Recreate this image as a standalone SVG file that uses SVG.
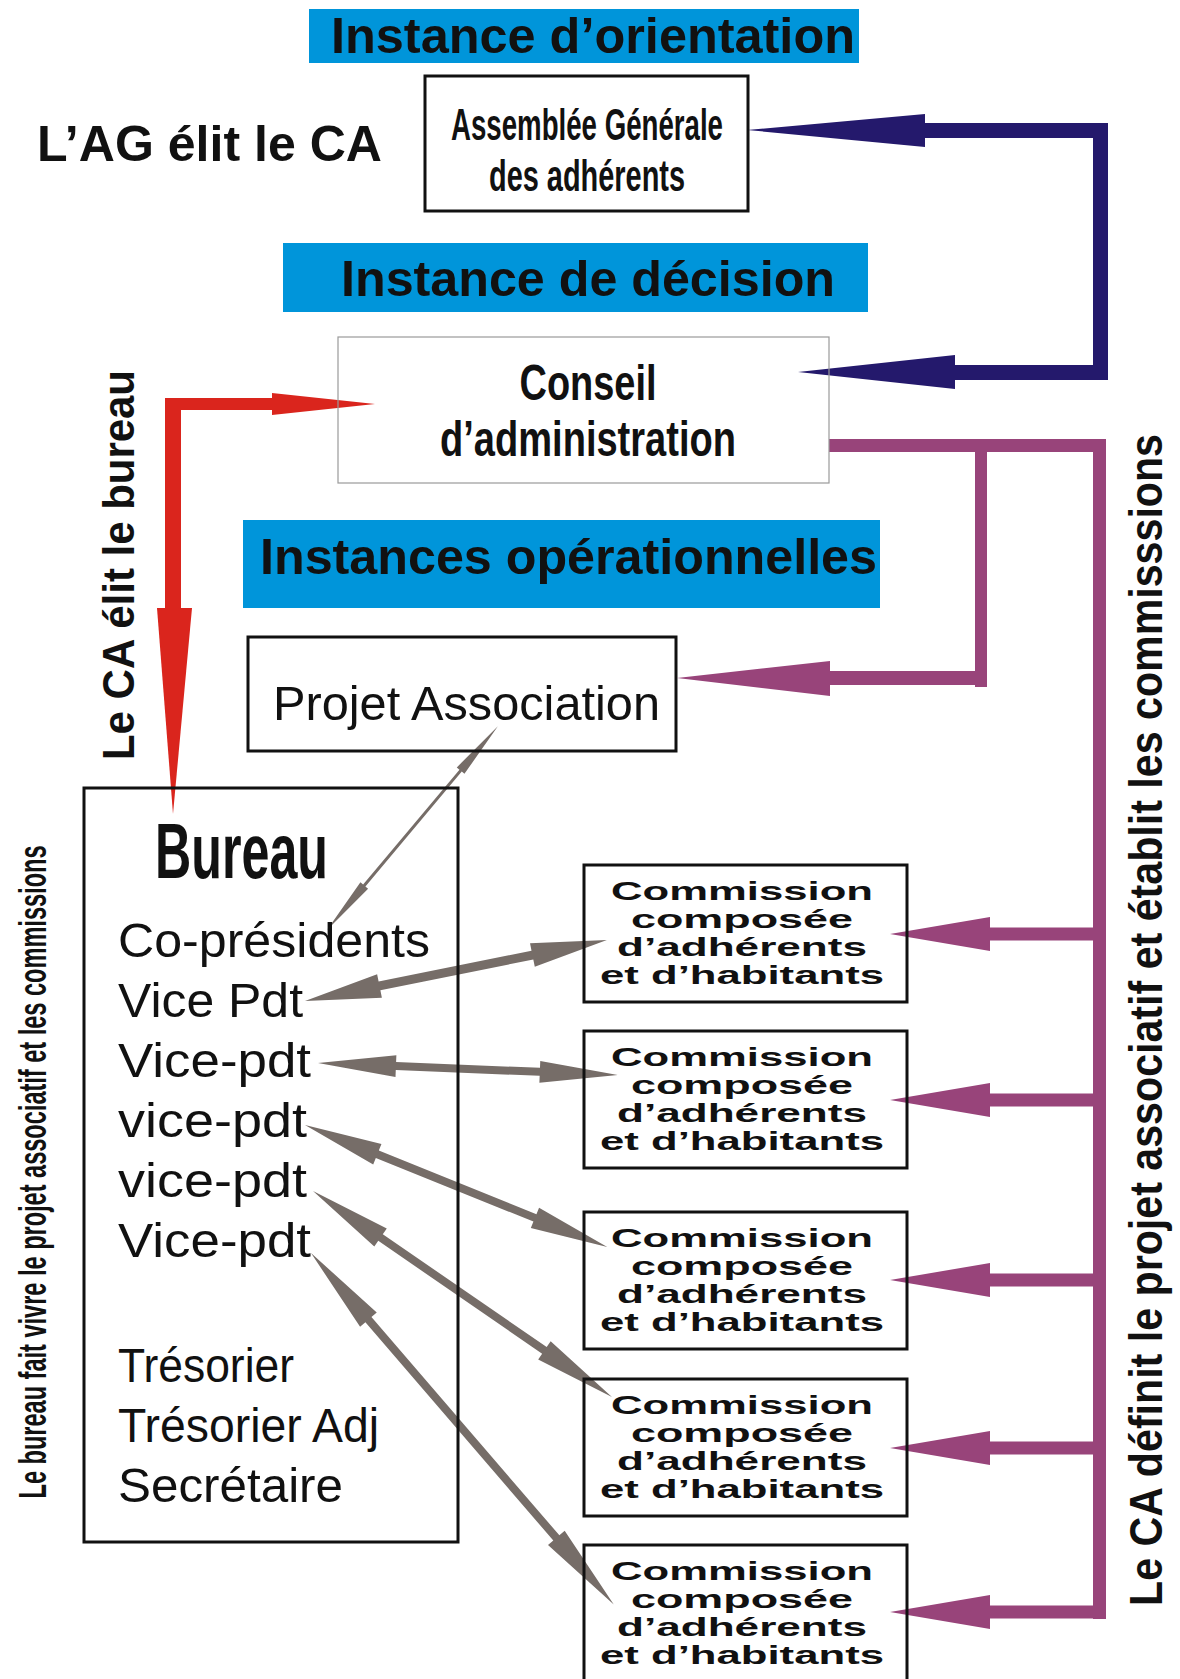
<svg xmlns="http://www.w3.org/2000/svg" width="1180" height="1679" viewBox="0 0 1180 1679">
<style>
.title{font-family:"Liberation Sans",Arial,sans-serif;font-weight:bold;font-size:50px;fill:#111}
.band{fill:#0095DA}
.box{fill:none;stroke:#111;stroke-width:3}
.thin{fill:none;stroke:#9a9a9a;stroke-width:1.2}
.nar{font-family:"Liberation Sans Narrow","Liberation Sans",Arial,sans-serif;font-weight:bold;fill:#111}
.goth{font-family:"Liberation Sans",Arial,sans-serif;font-weight:normal;font-size:48px;fill:#111}
.com{font-family:"Liberation Sans",Arial,sans-serif;font-weight:bold;font-size:26px;fill:#111;text-anchor:middle}
.navy{fill:#24196C}
.purple{fill:#98447A}
.red{fill:#DA251D}
.gray{fill:#766D68}
.vert{font-family:"Liberation Sans",Arial,sans-serif;font-weight:bold;fill:#111;text-anchor:middle}
.vnar{font-family:"Liberation Sans Narrow","Liberation Sans",Arial,sans-serif;font-weight:bold;fill:#111;text-anchor:middle}
</style>
<rect width="1180" height="1679" fill="#fff"/>

<g id="connectors">
  <rect class="navy" x="923" y="123" width="185" height="15"/>
  <rect class="navy" x="1093" y="123" width="15" height="257"/>
  <rect class="navy" x="953" y="365" width="155" height="15"/>
  <polygon class="navy" points="747,130 925,114 925,147"/>
  <polygon class="navy" points="798,372 955,355 955,389"/>
  <rect class="red" x="165" y="398" width="109" height="12"/>
  <rect class="red" x="165" y="398" width="16" height="212"/>
  <polygon class="red" points="375,404 272,393 272,415"/>
  <polygon class="red" points="173,814 157,608 192,608"/>
  <rect class="purple" x="829" y="439" width="277" height="13"/>
  <rect class="purple" x="1093" y="439" width="13" height="1180"/>
  <rect class="purple" x="975" y="445" width="12" height="242"/>
  <rect class="purple" x="828" y="671" width="159" height="14"/>
  <polygon class="purple" points="677,678 830,661 830,696"/>
  <rect class="purple" x="988" y="927.5" width="112" height="13"/>
  <polygon class="purple" points="890,934 990,917 990,951"/>
  <rect class="purple" x="988" y="1093.5" width="112" height="13"/>
  <polygon class="purple" points="890,1100 990,1083 990,1117"/>
  <rect class="purple" x="988" y="1273.5" width="112" height="13"/>
  <polygon class="purple" points="890,1280 990,1263 990,1297"/>
  <rect class="purple" x="988" y="1441.5" width="112" height="13"/>
  <polygon class="purple" points="890,1448 990,1431 990,1465"/>
  <rect class="purple" x="988" y="1605.5" width="118" height="13"/>
  <polygon class="purple" points="890,1612 990,1595 990,1629"/>
  <polygon class="gray" transform="translate(327,930) rotate(-50.03)" points="0,0 58,-5 58,-1.5 208,-1.5 208,-5 266,0 208,5 208,1.5 58,1.5 58,5"/>
  <polygon class="gray" transform="translate(305,1001) rotate(-11.42)" points="0,0 76,-12 76,-4.5 232,-4.5 232,-12 308,0 232,12 232,4.5 76,4.5 76,12"/>
  <polygon class="gray" transform="translate(318,1063) rotate(2.29)" points="0,0 78,-11 78,-4 222,-4 222,-11 300,0 222,11 222,4 78,4 78,11"/>
  <polygon class="gray" transform="translate(305,1125) rotate(22.0)" points="0,0 78,-11 78,-4 248,-4 248,-11 326,0 248,11 248,4 78,4 78,11"/>
  <polygon class="gray" transform="translate(313,1191) rotate(34.56)" points="0,0 82,-11 82,-4 281,-4 281,-11 363,0 281,11 281,4 82,4 82,11"/>
  <polygon class="gray" transform="translate(311,1253) rotate(49.27)" points="0,0 88,-11 88,-4 376,-4 376,-11 464,0 376,11 376,4 88,4 88,11"/>
</g>

<g id="band-orientation">
  <rect class="band" x="309" y="9" width="550" height="54"/>
  <text class="title" x="331" y="53" textLength="524" lengthAdjust="spacingAndGlyphs">Instance d’orientation</text>
</g>
<g id="band-decision">
  <rect class="band" x="283" y="243" width="585" height="69"/>
  <text class="title" x="341" y="296" textLength="494" lengthAdjust="spacingAndGlyphs">Instance de décision</text>
</g>
<g id="band-operationnelles">
  <rect class="band" x="243" y="520" width="637" height="88"/>
  <text class="title" x="260" y="574" textLength="617" lengthAdjust="spacingAndGlyphs">Instances opérationnelles</text>
</g>

<g id="label-ag">
  <text class="title" x="37" y="161" textLength="345" lengthAdjust="spacingAndGlyphs">L’AG élit le CA</text>
</g>

<g id="node-ag">
  <rect class="box" x="425" y="76" width="323" height="135"/>
  <text class="nar" x="587" y="140" font-size="44" text-anchor="middle" textLength="272" lengthAdjust="spacingAndGlyphs">Assemblée Générale</text>
  <text class="nar" x="587" y="191" font-size="44" text-anchor="middle" textLength="196" lengthAdjust="spacingAndGlyphs">des adhérents</text>
</g>

<g id="node-ca">
  <rect class="thin" x="338" y="337" width="491" height="146"/>
  <text class="nar" x="588" y="400" font-size="50" text-anchor="middle" textLength="137" lengthAdjust="spacingAndGlyphs">Conseil</text>
  <text class="nar" x="588" y="456" font-size="50" text-anchor="middle" textLength="296" lengthAdjust="spacingAndGlyphs">d’administration</text>
</g>

<g id="node-projet">
  <rect class="box" x="248" y="637" width="428" height="114"/>
  <text class="goth" x="273" y="720" textLength="387" lengthAdjust="spacingAndGlyphs">Projet Association</text>
</g>

<g id="node-bureau">
  <rect class="box" x="84" y="788" width="374" height="754"/>
  <text class="nar" x="155" y="878" font-size="78" textLength="173" lengthAdjust="spacingAndGlyphs">Bureau</text>
  <text class="goth" x="118" y="957" textLength="312" lengthAdjust="spacingAndGlyphs">Co-présidents</text>
  <text class="goth" x="118" y="1017" textLength="185" lengthAdjust="spacingAndGlyphs">Vice Pdt</text>
  <text class="goth" x="118" y="1077" textLength="193" lengthAdjust="spacingAndGlyphs">Vice-pdt</text>
  <text class="goth" x="118" y="1137" textLength="189" lengthAdjust="spacingAndGlyphs">vice-pdt</text>
  <text class="goth" x="118" y="1197" textLength="189" lengthAdjust="spacingAndGlyphs">vice-pdt</text>
  <text class="goth" x="118" y="1257" textLength="193" lengthAdjust="spacingAndGlyphs">Vice-pdt</text>
  <text class="goth" x="118" y="1382" textLength="176" lengthAdjust="spacingAndGlyphs">Trésorier</text>
  <text class="goth" x="118" y="1442" textLength="261" lengthAdjust="spacingAndGlyphs">Trésorier Adj</text>
  <text class="goth" x="118" y="1502" textLength="225" lengthAdjust="spacingAndGlyphs">Secrétaire</text>
</g>

<g id="node-commission-1">
  <rect class="box" x="584" y="865" width="323" height="137"/>
  <text class="com" x="742" y="900" textLength="262" lengthAdjust="spacingAndGlyphs">Commission</text>
  <text class="com" x="742" y="928" textLength="222" lengthAdjust="spacingAndGlyphs">composée</text>
  <text class="com" x="742" y="956" textLength="250" lengthAdjust="spacingAndGlyphs">d’adhérents</text>
  <text class="com" x="742" y="984" textLength="284" lengthAdjust="spacingAndGlyphs">et d’habitants</text>
</g>
<g id="node-commission-2">
  <rect class="box" x="584" y="1031" width="323" height="137"/>
  <text class="com" x="742" y="1066" textLength="262" lengthAdjust="spacingAndGlyphs">Commission</text>
  <text class="com" x="742" y="1094" textLength="222" lengthAdjust="spacingAndGlyphs">composée</text>
  <text class="com" x="742" y="1122" textLength="250" lengthAdjust="spacingAndGlyphs">d’adhérents</text>
  <text class="com" x="742" y="1150" textLength="284" lengthAdjust="spacingAndGlyphs">et d’habitants</text>
</g>
<g id="node-commission-3">
  <rect class="box" x="584" y="1212" width="323" height="137"/>
  <text class="com" x="742" y="1247" textLength="262" lengthAdjust="spacingAndGlyphs">Commission</text>
  <text class="com" x="742" y="1275" textLength="222" lengthAdjust="spacingAndGlyphs">composée</text>
  <text class="com" x="742" y="1303" textLength="250" lengthAdjust="spacingAndGlyphs">d’adhérents</text>
  <text class="com" x="742" y="1331" textLength="284" lengthAdjust="spacingAndGlyphs">et d’habitants</text>
</g>
<g id="node-commission-4">
  <rect class="box" x="584" y="1379" width="323" height="137"/>
  <text class="com" x="742" y="1414" textLength="262" lengthAdjust="spacingAndGlyphs">Commission</text>
  <text class="com" x="742" y="1442" textLength="222" lengthAdjust="spacingAndGlyphs">composée</text>
  <text class="com" x="742" y="1470" textLength="250" lengthAdjust="spacingAndGlyphs">d’adhérents</text>
  <text class="com" x="742" y="1498" textLength="284" lengthAdjust="spacingAndGlyphs">et d’habitants</text>
</g>
<g id="node-commission-5">
  <rect class="box" x="584" y="1545" width="323" height="150"/>
  <text class="com" x="742" y="1580" textLength="262" lengthAdjust="spacingAndGlyphs">Commission</text>
  <text class="com" x="742" y="1608" textLength="222" lengthAdjust="spacingAndGlyphs">composée</text>
  <text class="com" x="742" y="1636" textLength="250" lengthAdjust="spacingAndGlyphs">d’adhérents</text>
  <text class="com" x="742" y="1664" textLength="284" lengthAdjust="spacingAndGlyphs">et d’habitants</text>
</g>

<g id="label-ca-elit">
  <text class="vert" font-size="44" transform="translate(134,565) rotate(-90)" textLength="390" lengthAdjust="spacingAndGlyphs">Le CA élit le bureau</text>
</g>
<g id="label-bureau">
  <text class="vnar" font-size="38" transform="translate(46,1172) rotate(-90)" textLength="653" lengthAdjust="spacingAndGlyphs">Le bureau fait vivre le projet associatif et les commissions</text>
</g>
<g id="label-ca-definit">
  <text class="vnar" font-size="46" transform="translate(1162,1020) rotate(-90)" textLength="1172" lengthAdjust="spacingAndGlyphs">Le CA définit le projet associatif et établit les commisssions</text>
</g>
</svg>
